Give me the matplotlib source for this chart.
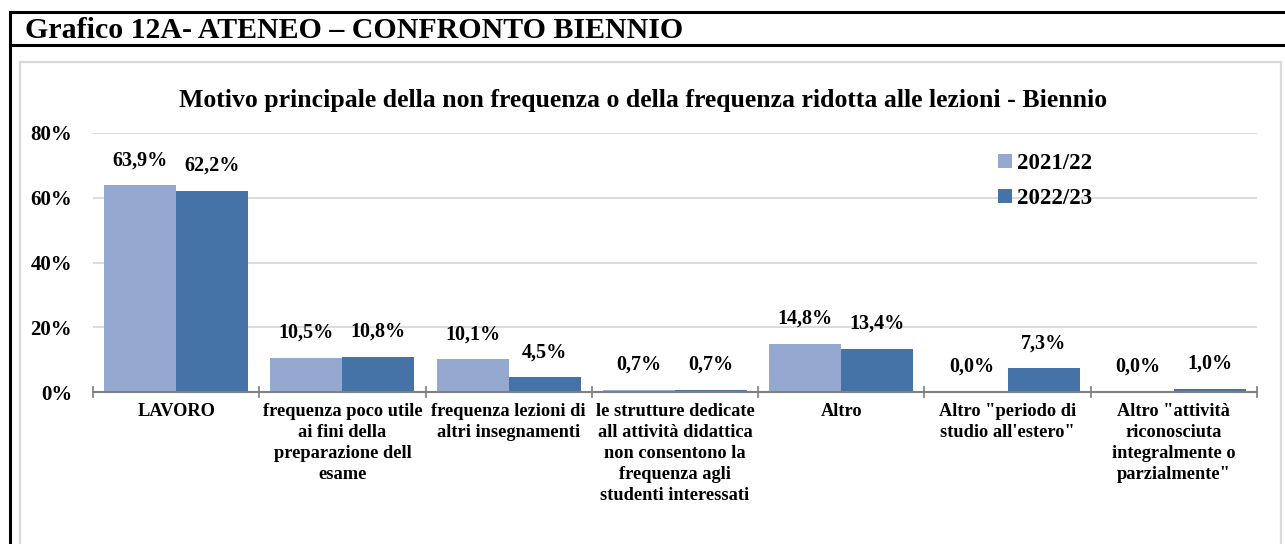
import matplotlib.pyplot as plt
import numpy as np
from matplotlib.lines import Line2D
from matplotlib.patches import Rectangle

categories = [
    "LAVORO",
    "frequenza poco utile\nai fini della\npreparazione dell\nesame",
    "frequenza lezioni di\naltri insegnamenti",
    "le strutture dedicate\nall attività didattica\nnon consentono la\nfrequenza agli\nstudenti interessati",
    "Altro",
    "Altro \"periodo di\nstudio all'estero\"",
    "Altro \"attività\nriconosciuta\nintegralmente o\nparzialmente\"",
]
series_names = ["2021/22", "2022/23"]
vals_2122 = [63.9, 10.5, 10.1, 0.7, 14.8, 0.0, 0.0]
vals_2223 = [62.2, 10.8, 4.5, 0.7, 13.4, 7.3, 1.0]

light = '#95A9D0'
dark = '#4573A8'

plt.rcParams['font.family'] = ['Liberation Serif', 'DejaVu Serif']
plt.rcParams['font.weight'] = 'bold'

W, H = 1285, 544
fig = plt.figure(figsize=(W / 100, H / 100), dpi=100)

# outer black frame + header band
for y in (12, 45):
    fig.add_artist(Line2D([10 / W, 1.0], [1 - y / H, 1 - y / H], color='black', lw=2.2))
fig.add_artist(Line2D([10 / W, 10 / W], [1 - 12 / H, 0], color='black', lw=2.2))
fig.text(25 / W, 1 - 31 / H, "Grafico 12A- ATENEO – CONFRONTO BIENNIO",
         fontsize=21.5, fontweight='bold', ha='left', va='center')

# inner chart border
fig.add_artist(Rectangle((20 / W, -0.1), (1281 - 20) / W, 1.1 - 62 / H,
                         fill=False, edgecolor='#D9D9D9', lw=1.6))

fig.text(643 / W, 1 - 101 / H,
         "Motivo principale della non frequenza o della frequenza ridotta alle lezioni - Biennio",
         fontsize=18.5, fontweight='bold', ha='center', va='center')

ax = fig.add_axes([93 / W, 1 - 392 / H, (1257 - 93) / W, (392 - 133) / H])

x = np.arange(len(categories))
bw = 0.433
b1 = ax.bar(x - bw / 2, [v / 100 for v in vals_2122], bw, color=light, label=series_names[0])
b2 = ax.bar(x + bw / 2, [v / 100 for v in vals_2223], bw, color=dark, label=series_names[1])

for bars, vals in ((b1, vals_2122), (b2, vals_2223)):
    for bar, v in zip(bars, vals):
        ax.annotate(f"{v:.1f}%".replace('.', ','),
                    (bar.get_x() + bar.get_width() / 2, bar.get_height()),
                    xytext=(0, 18), textcoords='offset points',
                    ha='center', va='center', fontsize=14.5, fontweight='bold')

ax.set_xlim(-0.5, len(categories) - 0.5)
ax.set_ylim(0, 0.8)
ax.set_yticks([0, 0.2, 0.4, 0.6, 0.8])
ax.set_yticklabels(["0%", "20%", "40%", "60%", "80%"], fontsize=15, fontweight='bold')
ax.tick_params(axis='y', length=0, pad=15)
ax.yaxis.grid(True, color='#D9D9D9', lw=1.3)
ax.set_axisbelow(True)

ax.set_xticks(x)
ax.set_xticklabels(categories, fontsize=13.2, fontweight='bold', linespacing=1.3)
ax.tick_params(axis='x', length=0, pad=8)
ax.set_xticks(np.arange(len(categories) + 1) - 0.5, minor=True)
ax.tick_params(axis='x', which='minor', direction='inout', length=8, width=1.2, color='#808080')

for s in ('top', 'right', 'left'):
    ax.spines[s].set_visible(False)
ax.spines['bottom'].set_color('#808080')
ax.spines['bottom'].set_linewidth(1.5)

ax.legend(loc='upper left', bbox_to_anchor=(998 / W, 1 - 153 / H), bbox_transform=fig.transFigure,
          frameon=False, handlelength=0.6, handleheight=0.6,
          handletextpad=0.25, labelspacing=0.62, borderpad=0, borderaxespad=0,
          prop={'weight': 'bold', 'size': 16.5})

fig.savefig('out.png', dpi=100)
